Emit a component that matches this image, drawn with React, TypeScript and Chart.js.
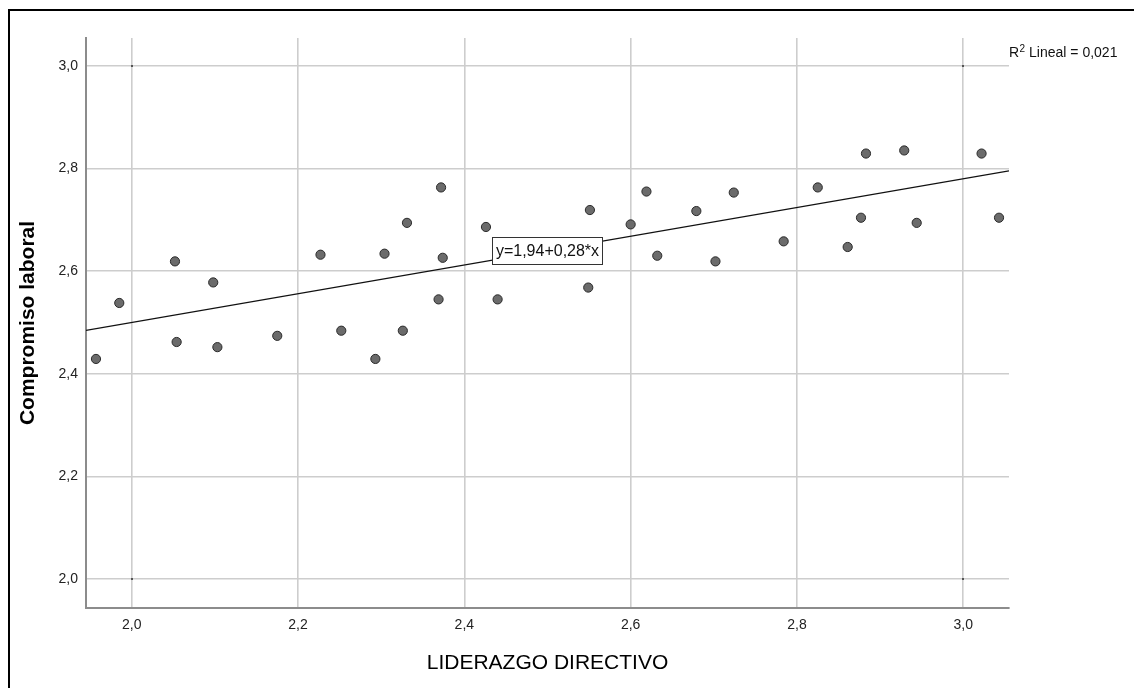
import React, { useEffect, useRef } from "react";
import { Chart, registerables } from "chart.js";

Chart.register(...registerables);

// ---- data ----
const liderazgo = [
  1.957, 1.985, 2.052, 2.054, 2.098, 2.103, 2.175, 2.227, 2.252, 2.304, 2.293, 2.326,
  2.331, 2.372, 2.374, 2.369, 2.426, 2.44, 2.551, 2.549, 2.619, 2.6, 2.632, 2.679,
  2.702, 2.724, 2.784, 2.825, 2.861, 2.877, 2.883, 2.929, 2.944, 3.022, 3.043,
];
const compromiso = [
  2.429, 2.538, 2.619, 2.462, 2.578, 2.452, 2.474, 2.632, 2.484, 2.634, 2.429, 2.484,
  2.694, 2.763, 2.626, 2.545, 2.686, 2.545, 2.719, 2.568, 2.755, 2.691, 2.63, 2.717,
  2.619, 2.753, 2.658, 2.763, 2.647, 2.704, 2.829, 2.835, 2.694, 2.829, 2.704,
];
const xTickValues = [2.0, 2.2, 2.4, 2.6, 2.8, 3.0];
const yTickValues = [2.0, 2.2, 2.4, 2.6, 2.8, 3.0];
const xRange = [1.945, 3.055];
const yRange = [1.944, 3.054];
const intercept = 1.94;
const slope = 0.28;
const eqLabelAt = 2.5;
const eqLabel = "y=1,94+0,28*x";
const r2Prefix = "R";
const r2Sup = "2";
const r2Rest = " Lineal = 0,021";
const xTitle = "LIDERAZGO DIRECTIVO";
const yTitle = "Compromiso laboral";

const FONT = '"Liberation Sans", Arial, Helvetica, sans-serif';
const fmt = (v: number) => v.toFixed(1).replace(".", ",");

const annotPlugin = {
  id: "annot",
  afterDatasetsDraw(chart: any) {
    const { ctx, scales } = chart;
    const x = scales.x;
    const y = scales.y;
    const px = x.getPixelForValue(eqLabelAt);
    const py = y.getPixelForValue(intercept + slope * eqLabelAt);
    ctx.save();
    ctx.font = `16px ${FONT}`;
    const bw = 110;
    const bh = 27;
    const bx = Math.round(px - bw / 2) + 0.5;
    const by = Math.round(py - bh / 2) + 0.5;
    ctx.fillStyle = "#ffffff";
    ctx.fillRect(bx, by, bw, bh);
    ctx.strokeStyle = "#333333";
    ctx.lineWidth = 1;
    ctx.strokeRect(bx, by, bw, bh);
    ctx.fillStyle = "#111111";
    ctx.textAlign = "center";
    ctx.textBaseline = "middle";
    ctx.fillText(eqLabel, bx + bw / 2, by + bh / 2 + 1);

    // R2 label
    const rx = chart.chartArea.right + 0;
    const ry = 57;
    ctx.textAlign = "left";
    ctx.textBaseline = "alphabetic";
    ctx.font = `14px ${FONT}`;
    ctx.fillText(r2Prefix, rx, ry);
    const w1 = ctx.measureText(r2Prefix).width;
    ctx.font = `10px ${FONT}`;
    ctx.fillText(r2Sup, rx + w1 + 0.5, ry - 5);
    const w2 = ctx.measureText(r2Sup).width;
    ctx.font = `14px ${FONT}`;
    ctx.fillText(r2Rest, rx + w1 + w2 + 0.5, ry);

    // small dark marks at corner grid intersections (as in the reference)
    ctx.fillStyle = "#555";
    [xTickValues[0], xTickValues[xTickValues.length - 1]].forEach((xv) => {
      [yTickValues[0], yTickValues[yTickValues.length - 1]].forEach((yv) => {
        const cx = Math.round(x.getPixelForValue(xv));
        const cy = Math.round(y.getPixelForValue(yv));
        ctx.fillRect(cx - 1, cy - 1, 2, 2);
      });
    });
    ctx.restore();
  },
};

export default function App() {
  const ref = useRef<HTMLCanvasElement | null>(null);

  useEffect(() => {
    if (!ref.current) return;
    const points = liderazgo.map((v, i) => ({ x: v, y: compromiso[i] }));
    const fit = xRange.map((v) => ({ x: v, y: intercept + slope * v }));
    const chart = new Chart(ref.current, {
      type: "scatter",
      data: {
        datasets: [
          {
            type: "line",
            data: fit,
            borderColor: "#111111",
            borderWidth: 1.3,
            pointRadius: 0,
            fill: false,
            order: 2,
          } as any,
          {
            data: points,
            pointRadius: 4.6,
            pointBackgroundColor: "#6b6b6b",
            pointBorderColor: "#2a2a2a",
            pointBorderWidth: 1,
            order: 1,
          },
        ],
      },
      options: {
        animation: false,
        responsive: false,
        devicePixelRatio: 1,
        layout: { padding: { left: 0, top: 38, right: 125, bottom: 0 } },
        plugins: { legend: { display: false }, tooltip: { enabled: false } },
        scales: {
          x: {
            type: "linear",
            min: xRange[0],
            max: xRange[1],
            afterBuildTicks: (s: any) => {
              s.ticks = xTickValues.map((v) => ({ value: v }));
            },
            afterFit: (s: any) => {
              s.height = 80;
            },
            grid: { color: "#cdcdcd", lineWidth: 1.6, drawTicks: false },
            border: { display: true, color: "#8c8c8c", width: 2 },
            ticks: {
              padding: 9,
              color: "#222",
              font: { family: FONT, size: 14 },
              callback: (v: any) => fmt(Number(v)),
            },
            title: {
              display: true,
              text: xTitle,
              color: "#000",
              font: { family: FONT, size: 21 },
              padding: { top: 0, bottom: 12 },
            },
          },
          y: {
            type: "linear",
            min: yRange[0],
            max: yRange[1],
            afterBuildTicks: (s: any) => {
              s.ticks = yTickValues.map((v) => ({ value: v }));
            },
            afterFit: (s: any) => {
              s.width = 86;
            },
            grid: { color: "#cdcdcd", lineWidth: 1.6, drawTicks: false },
            border: { display: true, color: "#8c8c8c", width: 2 },
            ticks: {
              padding: 8,
              color: "#222",
              font: { family: FONT, size: 14 },
              callback: (v: any) => fmt(Number(v)),
            },
            title: {
              display: true,
              text: yTitle,
              color: "#000",
              font: { family: FONT, size: 21, weight: "bold" },
              padding: { top: 16, bottom: 0 },
            },
          },
        },
      },
      plugins: [annotPlugin],
    });
    return () => chart.destroy();
  }, []);

  return (
    <div
      style={{
        position: "fixed",
        left: 0,
        top: 0,
        width: 1134,
        height: 688,
        overflow: "hidden",
        background: "#fff",
      }}
    >
      <div
        style={{
          position: "absolute",
          left: 8,
          top: 9,
          width: 1200,
          height: 800,
          border: "2px solid #000",
          boxSizing: "border-box",
        }}
      />
      <canvas
        ref={ref}
        width={1134}
        height={688}
        style={{ position: "absolute", left: 0, top: 0, width: 1134, height: 688 }}
      />
    </div>
  );
}
